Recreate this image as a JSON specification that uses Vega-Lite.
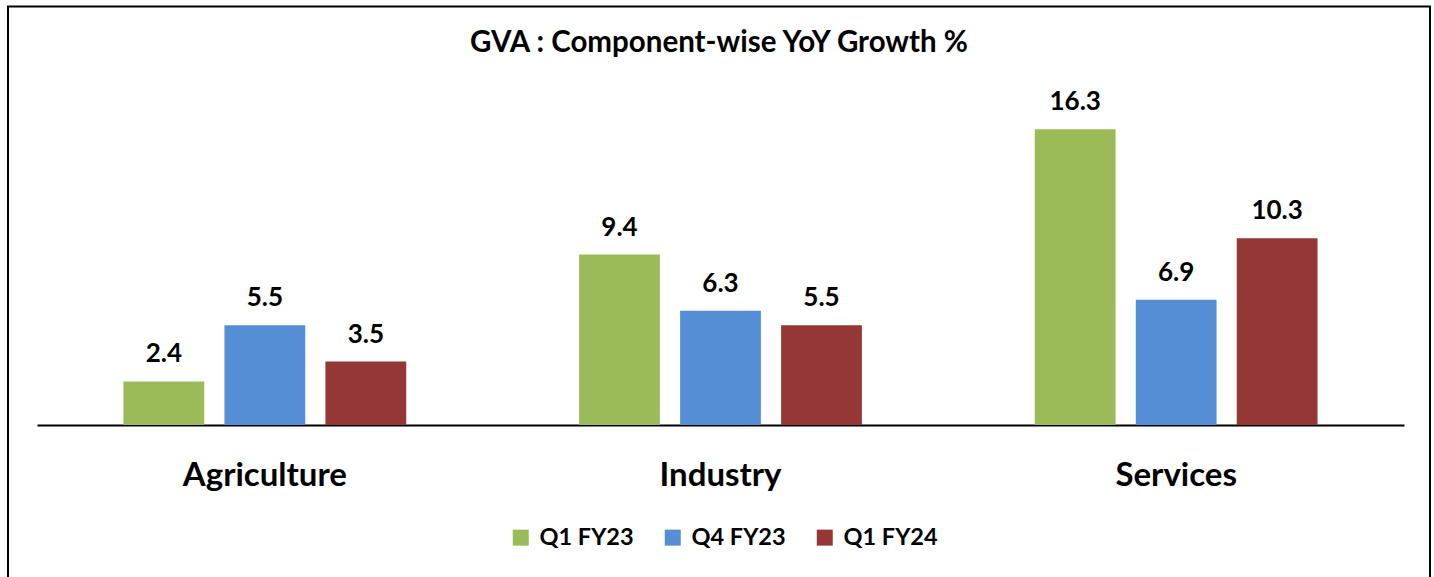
{
  "$schema": "https://vega.github.io/schema/vega-lite/v6.json",
  "autosize": {"type": "none"},
  "width": 1422,
  "height": 580,
  "padding": {"left": 8, "top": 6.5, "right": 4, "bottom": 0},
  "background": "white",
  "config": {
    "view": {"stroke": "black", "strokeWidth": 2},
    "font": "Lato"
  },
  "title": {
    "text": "GVA : Component-wise YoY Growth %",
    "font": "Lato",
    "fontSize": 29.5,
    "fontWeight": "bold",
    "color": "black",
    "anchor": "middle",
    "frame": "group",
    "baseline": "alphabetic",
    "offset": -75
  },
  "data": {
    "values": [
      {"sector": "Agriculture", "period": "Q1 FY23", "value": 2.4},
      {"sector": "Agriculture", "period": "Q4 FY23", "value": 5.5},
      {"sector": "Agriculture", "period": "Q1 FY24", "value": 3.5},
      {"sector": "Industry", "period": "Q1 FY23", "value": 9.4},
      {"sector": "Industry", "period": "Q4 FY23", "value": 6.3},
      {"sector": "Industry", "period": "Q1 FY24", "value": 5.5},
      {"sector": "Services", "period": "Q1 FY23", "value": 16.3},
      {"sector": "Services", "period": "Q4 FY23", "value": 6.9},
      {"sector": "Services", "period": "Q1 FY24", "value": 10.3}
    ]
  },
  "encoding": {
    "x": {
      "field": "sector",
      "type": "nominal",
      "sort": ["Agriculture", "Industry", "Services"],
      "scale": {"range": [29, 1396], "paddingInner": 0, "paddingOuter": 0},
      "axis": {
        "title": null,
        "orient": "bottom",
        "offset": -161.5,
        "domainColor": "black",
        "domainWidth": 2,
        "ticks": false,
        "tickSize": 0,
        "labelPadding": 34,
        "labelFont": "Lato",
        "labelFontSize": 33,
        "labelFontWeight": "bold",
        "labelColor": "black",
        "labelAngle": 0,
        "grid": false
      }
    },
    "xOffset": {
      "field": "period",
      "type": "nominal",
      "sort": ["Q1 FY23", "Q4 FY23", "Q1 FY24"],
      "scale": {"paddingInner": 0.2, "paddingOuter": 0.856}
    },
    "y": {
      "field": "value",
      "type": "quantitative",
      "scale": {"domain": [-8.9, 23.07], "nice": false, "zero": false},
      "axis": null
    }
  },
  "layer": [
    {
      "mark": {"type": "bar"},
      "encoding": {
        "y2": {"datum": 0},
        "color": {
          "field": "period",
          "type": "nominal",
          "sort": ["Q1 FY23", "Q4 FY23", "Q1 FY24"],
          "scale": {
            "domain": ["Q1 FY23", "Q4 FY23", "Q1 FY24"],
            "range": ["#9BBB59", "#558ED5", "#953735"]
          },
          "legend": {
            "title": null,
            "orient": "none",
            "direction": "horizontal",
            "legendX": 501,
            "legendY": 519,
            "padding": 0,
            "symbolType": "square",
            "symbolSize": 256,
            "symbolStrokeWidth": 0,
            "symbolOpacity": 1,
            "labelFont": "Lato",
            "labelFontSize": 23.5,
            "labelFontWeight": "bold",
            "labelColor": "black",
            "labelOffset": 7,
            "columnPadding": 27
          }
        }
      }
    },
    {
      "mark": {
        "type": "text",
        "baseline": "alphabetic",
        "dy": -19,
        "font": "Lato",
        "fontSize": 26,
        "fontWeight": "bold",
        "color": "black"
      },
      "encoding": {
        "text": {"field": "value", "type": "quantitative", "format": ".1f"}
      }
    }
  ]
}
